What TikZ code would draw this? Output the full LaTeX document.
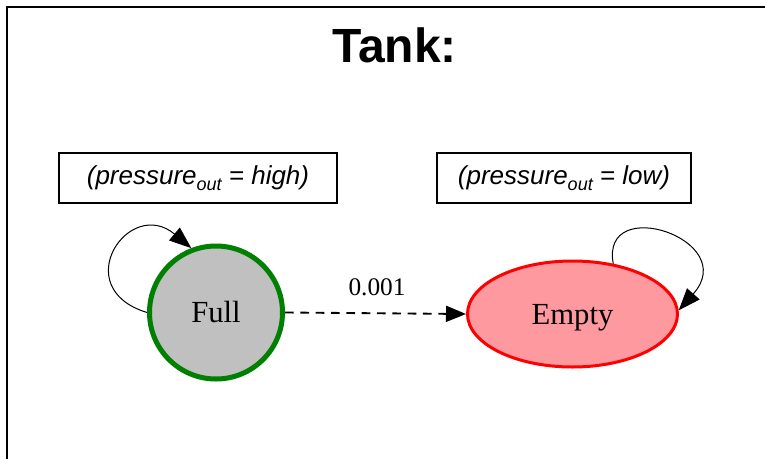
\documentclass[tikz,border=0pt]{standalone}
\usepackage{fontspec}
\setmainfont{Liberation Serif}
\setsansfont{Liberation Sans}
\usetikzlibrary{arrows.meta,shapes.geometric}
\definecolor{fullgreen}{HTML}{008000}
\definecolor{fullgray}{HTML}{C0C0C0}
\definecolor{emptyred}{HTML}{FF0000}
\definecolor{emptypink}{HTML}{FF99A0}
\newcommand\lowsub[1]{\raisebox{-4.5pt}{\fontsize{13.5}{13.5}\selectfont #1}}
\begin{document}
\begin{tikzpicture}[x=0.75pt,y=-0.75pt,
  titletext/.style={font=\sffamily\bfseries\fontsize{36}{36}\selectfont, inner sep=0pt},
  condbox/.style={draw, line width=1.1pt, minimum height=37.5pt, inner sep=0pt,
    font=\sffamily\itshape\fontsize{19.5}{19.5}\selectfont},
  statefull/.style={circle, draw=fullgreen, fill=fullgray, line width=3.75pt,
    minimum size=99.75pt, inner sep=0pt, font=\fontsize{23}{23}\selectfont},
  stateempty/.style={ellipse, draw=emptyred, fill=emptypink, line width=2.25pt,
    minimum width=157.5pt, minimum height=79.5pt, inner sep=0pt, text depth=0pt,
    font=\fontsize{23}{23}\selectfont},
  edgelabel/.style={font=\fontsize{19}{19}\selectfont, inner sep=0pt},
  selfloop/.style={line width=0.75pt, -{Triangle[length=16.5pt,width=12.5pt]}},
  transarrow/.style={line width=1.4pt, dash pattern=on 6.5pt off 5pt, -{Triangle[length=15pt,width=12pt]}}
]
\useasboundingbox (0,0) rectangle (765,458);
\clip (0,0) rectangle (765,458);
\draw[line width=1.5pt] (7,7) rectangle (800,500);

\node[titletext] (title) at (394.5,45.5) {Tank:};

\node[condbox, minimum width=208.5pt] (condfull) at (198,178) {(pressure\lowsub{out} = high)};
\node[condbox, minimum width=190.5pt] (condempty) at (564,178) {(pressure\lowsub{out} = low)};

\node[statefull] (full) at (216,312.5) {Full};
\node[stateempty] (empty) at (572.5,314) {Empty};

\draw[transarrow] (full.east) -- (empty.west);
\node[edgelabel] (rate) at (377,287) {0.001};

\draw[selfloop] (full.180) .. controls (67,288) and (129,196) .. (full.111);
\draw[selfloop] (empty.51) .. controls (600,193) and (741.6,239.5) .. (empty.2);
\end{tikzpicture}
\end{document}
